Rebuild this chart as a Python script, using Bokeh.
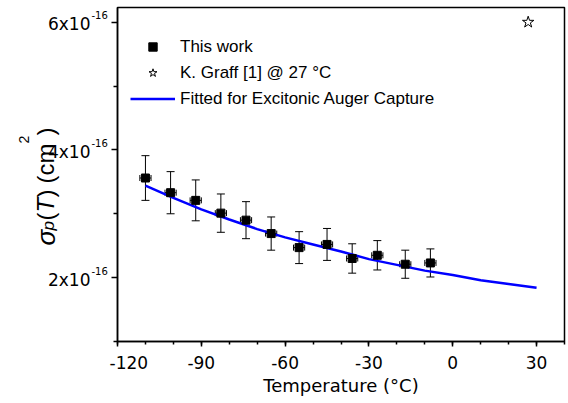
import math
from bokeh.plotting import figure
from bokeh.layouts import row
from bokeh.models import (ColumnDataSource, Whisker, TeeHead, FixedTicker, Label,
                          Legend, LegendItem, CustomJSTickFormatter)
from bokeh.embed import file_html
from bokeh.resources import INLINE

# ---- data (sigma in units of 1e-16 cm^2) ----
temp_c = [-110, -101, -92, -83, -74, -65, -55, -45, -36, -27, -17, -8]
sigma_p = [3.56, 3.33, 3.21, 3.01, 2.90, 2.69, 2.47, 2.52, 2.30, 2.35, 2.21, 2.23]
sigma_err = [0.35, 0.33, 0.32, 0.30, 0.29, 0.26, 0.25, 0.25, 0.23, 0.23, 0.22, 0.22]
temp_err = [2, 2, 2, 2, 2, 2, 2, 2, 2, 2, 2, 2]

graff_t = [27]
graff_sigma = [6.0]

fit_t = [-110, -100, -90, -80, -70, -60, -50, -40, -30, -20, -10, 0, 10, 20, 30]
fit_sigma = [3.44, 3.25, 3.07, 2.91, 2.76, 2.63, 2.52, 2.41, 2.29, 2.20, 2.11, 2.04, 1.96, 1.90, 1.84]

x_major = [-120, -90, -60, -30, 0, 30]
x_minor = list(range(-120, 41, 10))
y_major = [2, 4, 6]
y_minor = [1, 3, 5]
y_tick_text = ["2x10", "4x10", "6x10"]
y_tick_exp = "-16"

TICK_FONT = "DejaVu Sans"
TEXT_FONT = "Liberation Sans"

X0, X1 = -120, 40
Y0, Y1 = 1, 6.23
H = 401
TOP, BOTTOM = 7, 60
LW = 109  # width of the strip that holds the y-axis texts

p = figure(width=566 - LW, height=H, x_range=(X0, X1), y_range=(Y0, Y1),
           output_backend="svg", toolbar_location=None,
           min_border_left=8, min_border_right=2, min_border_top=TOP,
           min_border_bottom=BOTTOM)
p.xgrid.visible = False
p.ygrid.visible = False
p.outline_line_color = "black"
p.outline_line_width = 1.5
p.outline_line_alpha = 1.0
p.background_fill_color = "white"

# x axis
xa = p.xaxis[0]
xa.ticker = FixedTicker(ticks=x_major, minor_ticks=x_minor)
xa.formatter = CustomJSTickFormatter(code="return tick.toString();")
xa.axis_line_width = 1.5
xa.major_tick_line_width = 1.5
xa.minor_tick_line_width = 1.5
xa.major_tick_out = 5
xa.major_tick_in = 0
xa.minor_tick_out = 3
xa.minor_tick_in = 0
xa.major_label_text_font = TICK_FONT
xa.major_label_text_font_size = "17px"
xa.major_label_text_color = "black"
xa.major_label_standoff = 9
xa.axis_label = "Temperature (°C)"
xa.axis_label_text_font = TICK_FONT
xa.axis_label_text_font_size = "18px"
xa.axis_label_text_font_style = "normal"
xa.axis_label_text_color = "black"
xa.axis_label_standoff = 3

# y axis (labels are drawn in the strip on the left)
ya = p.yaxis[0]
ya.ticker = FixedTicker(ticks=y_major, minor_ticks=y_minor)
ya.formatter = CustomJSTickFormatter(code="return '';")
ya.axis_line_width = 1.5
ya.major_tick_line_width = 1.5
ya.minor_tick_line_width = 1.5
ya.major_tick_out = 6
ya.major_tick_in = 0
ya.minor_tick_out = 4
ya.minor_tick_in = 0
ya.major_label_standoff = 0

# left strip sharing the y range, for tick labels with exponents and the y title
lab = figure(width=LW, height=H, x_range=(0, LW), y_range=p.y_range,
             output_backend="svg", toolbar_location=None,
             x_axis_location=None, y_axis_location=None,
             min_border_left=0, min_border_right=0, min_border_top=TOP,
             min_border_bottom=BOTTOM)
lab.xgrid.visible = False
lab.ygrid.visible = False
lab.outline_line_color = None
lab.background_fill_color = "white"

for v, t in zip(y_major, y_tick_text):
    lab.add_layout(Label(x=90, y=v, y_offset=-2,
                         text=t, text_align="right", text_baseline="middle",
                         text_font=TICK_FONT, text_font_size="17px", text_color="black"))
    lab.add_layout(Label(x=91, y=v, y_offset=7,
                         text=y_tick_exp, text_align="left", text_baseline="middle",
                         text_font=TICK_FONT, text_font_size="10px", text_color="black"))

ang = math.pi / 2
pieces = [
    # text, x, dy (px above frame bottom), size, style
    ("σ", 45, 96, "26px", "italic"),
    ("p", 48, 111, "17px", "italic"),
    ("(", 45, 121, "24px", "normal"),
    ("T", 45, 129, "24px", "italic"),
    (")", 45, 144, "24px", "normal"),
    ("(cm", 45, 158, "24px", "normal"),
    ("2", 23, 198, "14px", "normal"),
    (")", 45, 206, "24px", "normal"),
]
for txt, x, dy, fs, st in pieces:
    lab.add_layout(Label(x=x, y=Y0, y_offset=dy, text=txt,
                         angle=ang, text_align="left", text_baseline="alphabetic",
                         text_font=TEXT_FONT, text_font_size=fs, text_font_style=st,
                         text_color="black"))

# error bars
src = ColumnDataSource(dict(
    t=temp_c, s=sigma_p,
    s_up=[a + b for a, b in zip(sigma_p, sigma_err)],
    s_lo=[a - b for a, b in zip(sigma_p, sigma_err)],
    t_up=[a + b for a, b in zip(temp_c, temp_err)],
    t_lo=[a - b for a, b in zip(temp_c, temp_err)],
))
wy = Whisker(source=src, base="t", upper="s_up", lower="s_lo", dimension="height",
             line_color="black", line_width=1,
             upper_head=TeeHead(size=8, line_color="black", line_width=1),
             lower_head=TeeHead(size=8, line_color="black", line_width=1))
wx = Whisker(source=src, base="s", upper="t_up", lower="t_lo", dimension="width",
             line_color="black", line_width=1,
             upper_head=TeeHead(size=6, line_color="black", line_width=1),
             lower_head=TeeHead(size=6, line_color="black", line_width=1))
p.add_layout(wy)
p.add_layout(wx)

fit = p.line(fit_t, fit_sigma, line_color="#0000FF", line_width=2.5)
sq = p.scatter("t", "s", source=src, marker="square", size=8,
               fill_color="black", line_color="black")
star = p.scatter(graff_t, graff_sigma, marker="star", size=12,
                 fill_color=None, line_color="black", line_width=1)

legend = Legend(items=[
    LegendItem(label="This work", renderers=[sq]),
    LegendItem(label="K. Graff [1] @ 27 °C", renderers=[star]),
    LegendItem(label="Fitted for Excitonic Auger Capture", renderers=[fit]),
], location=(13, 232), padding=0, margin=0, spacing=5, glyph_width=45,
    glyph_height=21, label_height=21, label_standoff=5,
    border_line_color=None, background_fill_alpha=0,
    label_text_font=TEXT_FONT, label_text_font_size="17px",
    label_text_color="black")
p.add_layout(legend)

layout = row(lab, p, spacing=0)
open("out.html", "w").write(file_html(layout, INLINE))
